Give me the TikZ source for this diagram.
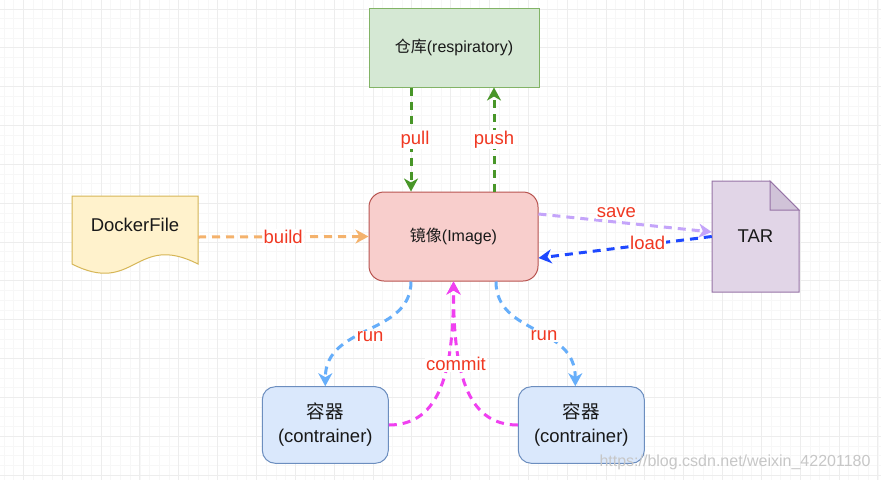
\documentclass[tikz,border=0pt]{standalone}
\usepackage{fontspec}
\setmainfont{Liberation Sans}
\newfontfamily\cjk{Noto Sans CJK SC}
\usepackage{xcolor}
\usetikzlibrary{arrows, arrows.meta}
\usetikzlibrary{calc}

\definecolor{repofill}{HTML}{D5E8D4}
\definecolor{repodraw}{HTML}{82B366}
\definecolor{imgfill}{HTML}{F8CECC}
\definecolor{imgdraw}{HTML}{B85450}
\definecolor{docfill}{HTML}{FFF2CC}
\definecolor{docdraw}{HTML}{D6B656}
\definecolor{tarfill}{HTML}{E1D5E7}
\definecolor{tarfold}{HTML}{D0C3D8}
\definecolor{tardraw}{HTML}{9673A6}
\definecolor{ctnfill}{HTML}{DAE8FC}
\definecolor{ctndraw}{HTML}{6C8EBF}
\definecolor{lblred}{RGB}{240,56,34}
\definecolor{pullgreen}{RGB}{72,150,40}
\definecolor{buildorange}{RGB}{244,178,108}
\definecolor{savepurple}{RGB}{196,164,250}
\definecolor{loadblue}{RGB}{30,72,255}
\definecolor{runblue}{RGB}{102,174,250}
\definecolor{commitpink}{RGB}{240,64,240}

\tikzset{
  gridminor/.style={line width=0.5pt, black!3},
  gridmajor/.style={line width=0.7pt, black!7},
  box/.style={draw, line width=1pt, text=black!90, inner sep=0pt},
  flow/.style={line width=3pt, dash pattern=on 8pt off 6pt,
    -{Stealth[length=13pt, width=14pt, inset=4pt]}},
  lbl/.style={text=lblred, fill=white, inner sep=1pt}
}

\begin{document}
\begin{tikzpicture}[x=1pt, y=-1pt, font=\fontsize{18.5}{24}\selectfont]
        \useasboundingbox (0,0) rectangle (881,480);
        \fill [white] (0,0) rectangle (881,480);
        % grid
        \foreach \i in {0,...,90} \draw [gridminor] (3.88+9.71*\i,0) -- (3.88+9.71*\i,480);
        \foreach \j in {0,...,48} \draw [gridminor] (0,8.86+9.71*\j) -- (881,8.86+9.71*\j);
        \foreach \i in {0,...,22} \draw [gridmajor] (23.3+38.84*\i,0) -- (23.3+38.84*\i,480);
        \foreach \j in {0,...,12} \draw [gridmajor] (0,8.86+38.84*\j) -- (881,8.86+38.84*\j);

        % boxes
        \node [box, fill=repofill, draw=repodraw, minimum width=170pt, minimum height=79pt,
               font=\fontsize{16}{19}\selectfont] (repo) at (454,47.5) {{\cjk 仓库}(respiratory)};
        \node [box, fill=imgfill, draw=imgdraw, rounded corners=15pt, minimum width=169pt, minimum height=89pt,
               font=\fontsize{16}{19}\selectfont] (image) at (453.5,236.5) {{\cjk 镜像}(Image)};
        \node [box, fill=ctnfill, draw=ctndraw, rounded corners=13pt, minimum width=126pt, minimum height=76.6pt,
               align=center] (c1) at (325.3,425) {{\cjk 容器}\\(contrainer)};
        \node [box, fill=ctnfill, draw=ctndraw, rounded corners=13pt, minimum width=126pt, minimum height=76.6pt,
               align=center] (c2) at (581.3,425) {{\cjk 容器}\\(contrainer)};

        % DockerFile
        \draw [docdraw, fill=docfill, line width=1pt] (72,196) -- (198,196) -- (198,264)
              .. controls (135,232) and (135,296) .. (72,264) -- cycle;
        \node [text=black!90] (docker) at (135,225) {DockerFile};
        \coordinate (dockerE) at (198,237);

        % TAR
        \draw [tardraw, fill=tarfill, line width=1pt] (712,181) -- (770,181) -- (799,210) -- (799,292) -- (712,292) -- cycle;
        \draw [tardraw, fill=tarfold, line width=1pt] (770,181) -- (770,210) -- (799,210) -- cycle;
        \node [text=black!90, minimum width=87pt, minimum height=111pt, inner sep=0pt] (tar) at (755.5,236.5) {TAR};

        % arrows
        \draw [flow, pullgreen] ([xshift=-43pt]repo.south) -- ([xshift=-43pt]repo.south |- image.north)
              node [lbl, midway, xshift=4pt] (lpull) {pull};
        \draw [flow, pullgreen] ([xshift=40pt]repo.south |- image.north) -- ([xshift=40pt]repo.south)
              node [lbl, midway] (lpush) {push};
        \draw [flow, buildorange] (dockerE) -- (image.west) node [lbl, midway] (lbuild) {build};
        \draw [flow, savepurple] ([yshift=22.5pt]image.east) -- ([yshift=4.5pt]tar.west)
              node [lbl, pos=0.45, yshift=9pt] (lsave) {save};
        \draw [flow, loadblue] (tar.west) -- ([yshift=-21.5pt]image.east)
              node [lbl, pos=0.37, yshift=2pt] (lload) {load};
        \draw [flow, runblue] ([xshift=-42.5pt]image.south) .. controls +(0,54) and +(0,-62) .. (c1.north)
              node [lbl, pos=0.5, yshift=-6pt, xshift=2pt] (lrun1) {run};
        \draw [flow, runblue] ([xshift=42.5pt]image.south) .. controls +(0,54) and +(0,-62) .. ([xshift=-6pt]c2.north)
              node [lbl, pos=0.57] (lrun2) {run};
        \draw [flow, commitpink] (c1.east) .. controls +(52,0) and +(0,89) .. (image.south);
        \draw [flow, commitpink] (c2.west) .. controls +(-52,0) and +(0,89) .. (image.south);
        \node [lbl] (lcommit) at (456,364) {commit};

        \node [text=black!22, font=\fontsize{16}{19}\selectfont] (mark) at (735,462) {https://blog.csdn.net/weixin\_42201180};
    \end{tikzpicture}
\end{document}
